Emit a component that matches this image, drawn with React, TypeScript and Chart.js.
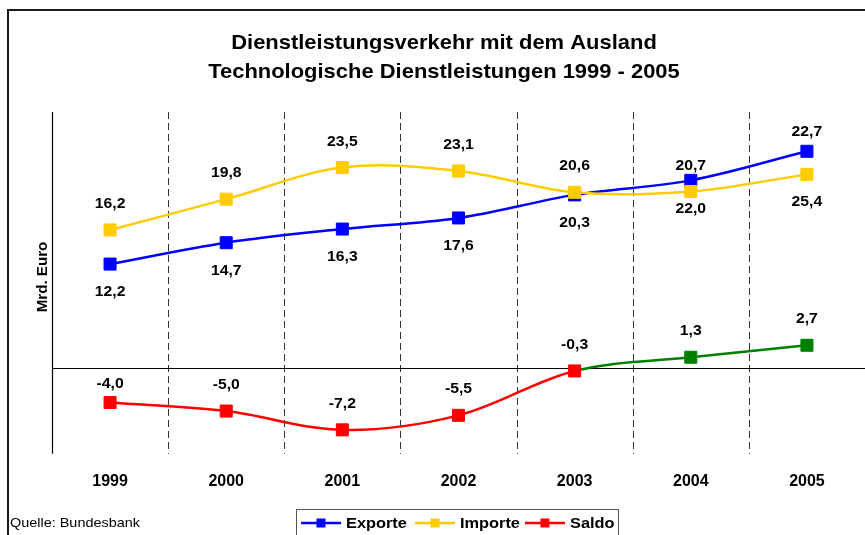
import React, { useEffect, useRef } from "react";
import { Chart, registerables } from "chart.js";

Chart.register(...registerables);

const years = ["1999", "2000", "2001", "2002", "2003", "2004", "2005"];
const exporte = [12.2, 14.7, 16.3, 17.6, 20.3, 22.0, 25.4];
const importe = [16.2, 19.8, 23.5, 23.1, 20.6, 20.7, 22.7];
const saldo = [-4.0, -5.0, -7.2, -5.5, -0.3, 1.3, 2.7];

const titleLines = [
  "Dienstleistungsverkehr mit dem Ausland",
  "Technologische Dienstleistungen 1999 - 2005",
];
const yTitle = "Mrd. Euro";
const source = "Quelle: Bundesbank";
const legendNames = ["Exporte", "Importe", "Saldo"];

const BLUE = "#0000FF";
const YELLOW = "#FFCC00";
const RED = "#FF0000";
const GREEN = "#008000";
const FONT = "'Liberation Sans', Arial, sans-serif";

const fmt = (v: number) => v.toFixed(1).replace(".", ",");

function drawText(ctx: any, text: string, x: number, y: number, font: string, sx: number, align: string, baseline = "middle") {
  ctx.save();
  ctx.translate(x, y);
  ctx.scale(sx, 1);
  ctx.font = font;
  ctx.textAlign = align;
  ctx.textBaseline = baseline;
  ctx.fillStyle = "#000";
  ctx.fillText(text, 0, 0);
  ctx.restore();
}

const decorPlugin = {
  id: "decor",
  beforeDatasetsDraw(chart: any) {
    const { ctx, chartArea, scales } = chart;
    const x = scales.x;
    const y = scales.y;
    ctx.save();
    ctx.strokeStyle = "#333333";
    ctx.lineWidth = 1;
    ctx.setLineDash([7, 4]);
    for (let i = 0; i < years.length - 1; i++) {
      const px = Math.round((x.getPixelForTick(i) + x.getPixelForTick(i + 1)) / 2) + 0.5;
      ctx.beginPath();
      ctx.moveTo(px, chartArea.top);
      ctx.lineTo(px, chartArea.bottom);
      ctx.stroke();
    }
    ctx.setLineDash([]);
    const zy = Math.round(y.getPixelForValue(0)) + 0.5;
    ctx.strokeStyle = "#000000";
    ctx.lineWidth = 1.2;
    ctx.beginPath();
    ctx.moveTo(chartArea.left, zy);
    ctx.lineTo(chartArea.right, zy);
    ctx.stroke();
    ctx.beginPath();
    ctx.moveTo(chartArea.left + 0.5, chartArea.top);
    ctx.lineTo(chartArea.left + 0.5, chartArea.bottom);
    ctx.stroke();
    ctx.restore();
  },
  afterDraw(chart: any) {
    const { ctx, scales } = chart;
    ctx.save();
    ctx.strokeStyle = "#1a1a1a";
    ctx.lineWidth = 2;
    ctx.strokeRect(8, 10, 1000, 1000);
    // title
    drawText(ctx, titleLines[0], 444, 49, `bold 21px ${FONT}`, 1.045, "center", "alphabetic");
    drawText(ctx, titleLines[1], 444, 78, `bold 21px ${FONT}`, 1.045, "center", "alphabetic");
    // y title
    ctx.save();
    ctx.translate(43, 277);
    ctx.rotate(-Math.PI / 2);
    drawText(ctx, yTitle, 0, 0, `bold 14px ${FONT}`, 1.08, "center");
    ctx.restore();
    // source
    drawText(ctx, source, 10, 523, `13px ${FONT}`, 1.11, "left");
    // data labels with simple collision avoidance
    const zeroY = scales.y.getPixelForValue(0);
    const mExp = chart.getDatasetMeta(0).data;
    const mImp = chart.getDatasetMeta(1).data;
    const mSal = chart.getDatasetMeta(2).data;
    const lblFont = `bold 15px ${FONT}`;
    years.forEach((_, i) => {
      const pe = mExp[i], pi = mImp[i], ps = mSal[i];
      let yi = pi.y - 26;
      if (Math.abs(pe.y - yi) < 14) yi = pe.y - 19;
      let ye = pe.y + 28;
      if (Math.abs(pi.y - ye) < 14) ye = pi.y + 27;
      let ys = ps.y - 26;
      if (Math.abs(ys - zeroY) < 16) ys = zeroY + 16;
      drawText(ctx, fmt(importe[i]), pi.x, yi, lblFont, 1.05, "center");
      drawText(ctx, fmt(exporte[i]), pe.x, ye, lblFont, 1.05, "center");
      drawText(ctx, fmt(saldo[i]), ps.x, ys, lblFont, 1.05, "center");
    });
    // legend
    const lx = 296, ly = 509;
    ctx.strokeStyle = "#555";
    ctx.lineWidth = 1;
    ctx.strokeRect(lx + 0.5, ly + 0.5, 322, 40);
    const cols = [BLUE, YELLOW, RED];
    const starts = [301, 415, 525];
    legendNames.forEach((name, i) => {
      const sx = starts[i];
      const cy = 523;
      ctx.strokeStyle = cols[i];
      ctx.lineWidth = 2.5;
      ctx.beginPath();
      ctx.moveTo(sx, cy);
      ctx.lineTo(sx + 40, cy);
      ctx.stroke();
      ctx.fillStyle = cols[i];
      ctx.fillRect(sx + 15.5, cy - 4.5, 9, 9);
      drawText(ctx, name, sx + 45, cy + 1, `bold 15px ${FONT}`, 1.09, "left");
    });
    ctx.restore();
  },
};

export default function App() {
  const ref = useRef<HTMLCanvasElement>(null);
  useEffect(() => {
    if (!ref.current) return;
    const chart = new Chart(ref.current, {
      type: "line",
      data: {
        labels: years,
        datasets: [
          {
            label: "Exporte",
            data: exporte,
            borderColor: BLUE,
            backgroundColor: BLUE,
            pointBackgroundColor: BLUE,
            pointBorderColor: BLUE,
            order: 2,
          },
          {
            label: "Importe",
            data: importe,
            borderColor: YELLOW,
            backgroundColor: YELLOW,
            pointBackgroundColor: YELLOW,
            pointBorderColor: YELLOW,
            order: 1,
          },
          {
            label: "Saldo",
            data: saldo,
            borderColor: RED,
            backgroundColor: RED,
            pointBackgroundColor: saldo.map((_, i) => (i > 4 ? GREEN : RED)),
            pointBorderColor: saldo.map((_, i) => (i > 4 ? GREEN : RED)),
            segment: {
              borderColor: (c: any) => (c.p0DataIndex >= 4 ? GREEN : RED),
            },
            order: 3,
          },
        ],
      },
      options: {
        responsive: false,
        animation: false,
        devicePixelRatio: 1,
        layout: { autoPadding: false, padding: { left: 52, top: 112, right: 0, bottom: 26 } },
        elements: {
          line: { borderWidth: 2.5, tension: 0.35, fill: false },
          point: { pointStyle: "rect", radius: 8.5, borderWidth: 1, hoverRadius: 8.5 },
        },
        plugins: {
          legend: { display: false },
          title: { display: false },
          tooltip: { enabled: false },
        },
        scales: {
          x: {
            offset: true,
            grid: { display: false, drawTicks: false },
            border: { display: false },
            ticks: {
              padding: 18,
              color: "#000",
              font: { family: FONT, size: 16, weight: "bold" },
            },
            afterFit: (s: any) => {
              s.paddingLeft = 0;
              s.paddingRight = 0;
            },
          },
          y: {
            min: -10,
            max: 30,
            grid: { display: false, drawTicks: false },
            border: { display: false },
            ticks: { display: false },
          },
        },
      },
      plugins: [decorPlugin],
    });
    return () => chart.destroy();
  }, []);
  return (
    <div style={{ position: "fixed", left: 0, top: 0, width: 865, height: 535, background: "#fff" }}>
      <canvas ref={ref} width={865} height={535} />
    </div>
  );
}
